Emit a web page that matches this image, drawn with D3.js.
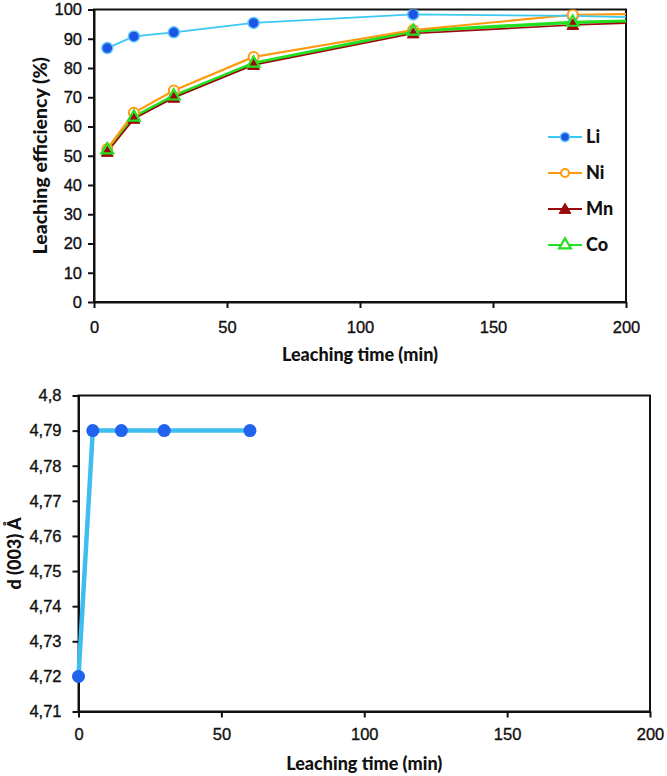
<!DOCTYPE html>
<html>
<head>
<meta charset="utf-8">
<script src="https://cdn.jsdelivr.net/npm/d3@7"></script>
<style>
  body { margin: 0; background: #fff; }
  svg { display: block; font-family: Lato, "Open Sans", sans-serif; }
  .tick text { font-size: 16.5px; fill: #111; stroke: #111; stroke-width: 0.35px; }
  .title { font-size: 18px; font-weight: 900; fill: #111; }
</style>
</head>
<body>
<svg id="chart" width="667" height="776"></svg>
<script>
// top panel: leaching efficiency vs time
var times = [5, 15, 30, 60, 120, 180, 240];
var li = [86.8, 90.8, 92.2, 95.4, 98.3, 97.8, 96.6];
var ni = [52.3, 64.7, 72.3, 83.8, 93.0, 98.2, 98.8];
var mn = [51.3, 62.6, 69.8, 81.0, 91.8, 94.7, 96.6];
var co = [52.0, 63.2, 70.4, 81.6, 92.6, 95.6, 96.8];
var seriesNames = ["Li", "Ni", "Mn", "Co"];

// bottom panel: d(003) spacing vs time
var dTimes = [0, 5, 15, 30, 60];
var dValues = [4.72, 4.79, 4.79, 4.79, 4.79];
var dTicks = [4.71, 4.72, 4.73, 4.74, 4.75, 4.76, 4.77, 4.78, 4.79, 4.8];
var xTicks = [0, 50, 100, 150, 200];

var svg = d3.select("#chart");

// ---------- top chart ----------
var x1 = d3.scaleLinear().domain([0, 200]).range([94, 626]);
var y1 = d3.scaleLinear().domain([0, 100]).range([302, 9.5]);

var gTop = svg.append("g");

gTop.append("defs").append("clipPath").attr("id", "clip1")
  .append("rect")
  .attr("x", x1(0)).attr("y", y1(100))
  .attr("width", x1(200) - x1(0)).attr("height", y1(0) - y1(100));

// frame
gTop.append("rect")
  .attr("x", x1(0)).attr("y", y1(100))
  .attr("width", x1(200) - x1(0)).attr("height", y1(0) - y1(100))
  .attr("fill", "none").attr("stroke", "#111").attr("stroke-width", 2);

var ax1 = gTop.append("g")
  .attr("transform", "translate(0," + y1(0) + ")")
  .call(d3.axisBottom(x1).tickValues(xTicks).tickSize(6).tickPadding(13).tickSizeOuter(0));
var ay1 = gTop.append("g")
  .attr("transform", "translate(" + x1(0) + ",0)")
  .call(d3.axisLeft(y1).ticks(10).tickSize(6).tickPadding(6).tickSizeOuter(0));
[ax1, ay1].forEach(function(a) {
  a.select(".domain").attr("stroke", "#111").attr("stroke-width", 2);
  a.selectAll(".tick line").attr("stroke", "#111").attr("stroke-width", 2);
});

var styles = {
  Li: {data: li, line: "#3cc8f4", lw: 1.8},
  Ni: {data: ni, line: "#ff9a10", lw: 2.2},
  Mn: {data: mn, line: "#9a0a0a", lw: 1.6},
  Co: {data: co, line: "#22e022", lw: 3.4}
};

var line1 = d3.line()
  .x(function(d, i) { return x1(times[i]); })
  .y(function(d) { return y1(d); });

var plot = gTop.append("g").attr("clip-path", "url(#clip1)");

["Co", "Mn", "Ni", "Li"].forEach(function(k) {
  plot.append("path")
    .datum(styles[k].data)
    .attr("d", line1)
    .attr("fill", "none")
    .attr("stroke", styles[k].line)
    .attr("stroke-width", styles[k].lw);
});

var tri = d3.symbol().type(d3.symbolTriangle).size(60);

function drawMarker(g, k, cx, cy, legend) {
  if (k === "Li") {
    g.append("circle").attr("cx", cx).attr("cy", cy).attr("r", legend ? 4.5 : 5.5)
      .attr("fill", "#1c55e6").attr("stroke", "#5fc6f5").attr("stroke-width", 1.5);
  } else if (k === "Ni") {
    g.append("circle").attr("cx", cx).attr("cy", cy).attr("r", legend ? 4 : 5)
      .attr("fill", "#fff").attr("stroke", "#ff9a10").attr("stroke-width", 2);
  } else if (k === "Mn") {
    g.append("path").attr("d", tri).attr("transform", "translate(" + cx + "," + (cy + 1) + ")")
      .attr("fill", "#9a0a0a").attr("stroke", "#9a0a0a").attr("stroke-width", 1);
  } else {
    g.append("path").attr("d", tri).attr("transform", "translate(" + cx + "," + cy + ")")
      .attr("fill", legend ? "#fff" : "none").attr("stroke", "#22e022").attr("stroke-width", 2.2);
  }
}

var marks = gTop.append("g").attr("clip-path", "url(#clip1)");
["Li", "Ni", "Mn", "Co"].forEach(function(k) {
  styles[k].data.forEach(function(v, i) {
    if (times[i] <= 200) drawMarker(marks, k, x1(times[i]), y1(v), false);
  });
});

// legend
var legend = gTop.append("g");
seriesNames.forEach(function(k, i) {
  var yy = 137 + i * 36;
  legend.append("line").attr("x1", 548).attr("x2", 582).attr("y1", yy).attr("y2", yy)
    .attr("stroke", styles[k].line).attr("stroke-width", k === "Co" ? 2.2 : 2);
  drawMarker(legend, k, 565, yy, true);
  legend.append("text").attr("class", "title").attr("x", 586).attr("y", yy)
    .attr("dy", "0.36em").style("font-size", "18px").text(k);
});

gTop.append("text").attr("class", "title")
  .attr("x", (x1(0) + x1(200)) / 2).attr("y", 355)
  .attr("dy", "0.35em").attr("text-anchor", "middle")
  .text("Leaching time (min)");
gTop.append("text").attr("class", "title")
  .attr("transform", "translate(40," + (y1(0) + y1(100)) / 2 + ") rotate(-90)")
  .attr("dy", "0.35em").attr("text-anchor", "middle")
  .style("font-size", "19.5px")
  .text("Leaching efficiency (%)");

// ---------- bottom chart ----------
var x2 = d3.scaleLinear().domain([0, 200]).range([78.5, 650]);
var y2 = d3.scaleLinear().domain([4.71, 4.8]).range([711.5, 395.5]);

var bot = svg.append("g");
bot.append("rect")
  .attr("x", x2(0)).attr("y", y2(4.8))
  .attr("width", x2(200) - x2(0)).attr("height", y2(4.71) - y2(4.8))
  .attr("fill", "none").attr("stroke", "#111").attr("stroke-width", 2);

var commaFmt = function(d) { return d3.format(".2~f")(d).replace(".", ","); };

var ax2 = bot.append("g")
  .attr("transform", "translate(0," + y2(4.71) + ")")
  .call(d3.axisBottom(x2).tickValues(xTicks).tickSize(6).tickPadding(11).tickSizeOuter(0));
var ay2 = bot.append("g")
  .attr("transform", "translate(" + x2(0) + ",0)")
  .call(d3.axisLeft(y2).tickValues(dTicks).tickFormat(commaFmt).tickSize(6).tickPadding(11).tickSizeOuter(0));
[ax2, ay2].forEach(function(a) {
  a.select(".domain").attr("stroke", "#111").attr("stroke-width", 2);
  a.selectAll(".tick line").attr("stroke", "#111").attr("stroke-width", 2);
});

var line2 = d3.line()
  .x(function(d, i) { return x2(dTimes[i]); })
  .y(function(d) { return y2(d); });

bot.append("path").datum(dValues).attr("d", line2)
  .attr("fill", "none").attr("stroke", "#3ebdf0").attr("stroke-width", 4.5);

bot.selectAll("circle.dpt").data(dValues).enter().append("circle")
  .attr("class", "dpt")
  .attr("cx", function(d, i) { return x2(dTimes[i]); })
  .attr("cy", function(d) { return y2(d); })
  .attr("r", 6.5)
  .attr("fill", "#2162ee");

bot.append("text").attr("class", "title")
  .attr("x", (x2(0) + x2(200)) / 2).attr("y", 764)
  .attr("dy", "0.35em").attr("text-anchor", "middle")
  .text("Leaching time (min)");
bot.append("text").attr("class", "title")
  .attr("transform", "translate(15," + (y2(4.71) + y2(4.8)) / 2 + ") rotate(-90)")
  .attr("dy", "0.35em").attr("text-anchor", "middle")
  .text("d (003) Å");
</script>
</body>
</html>
